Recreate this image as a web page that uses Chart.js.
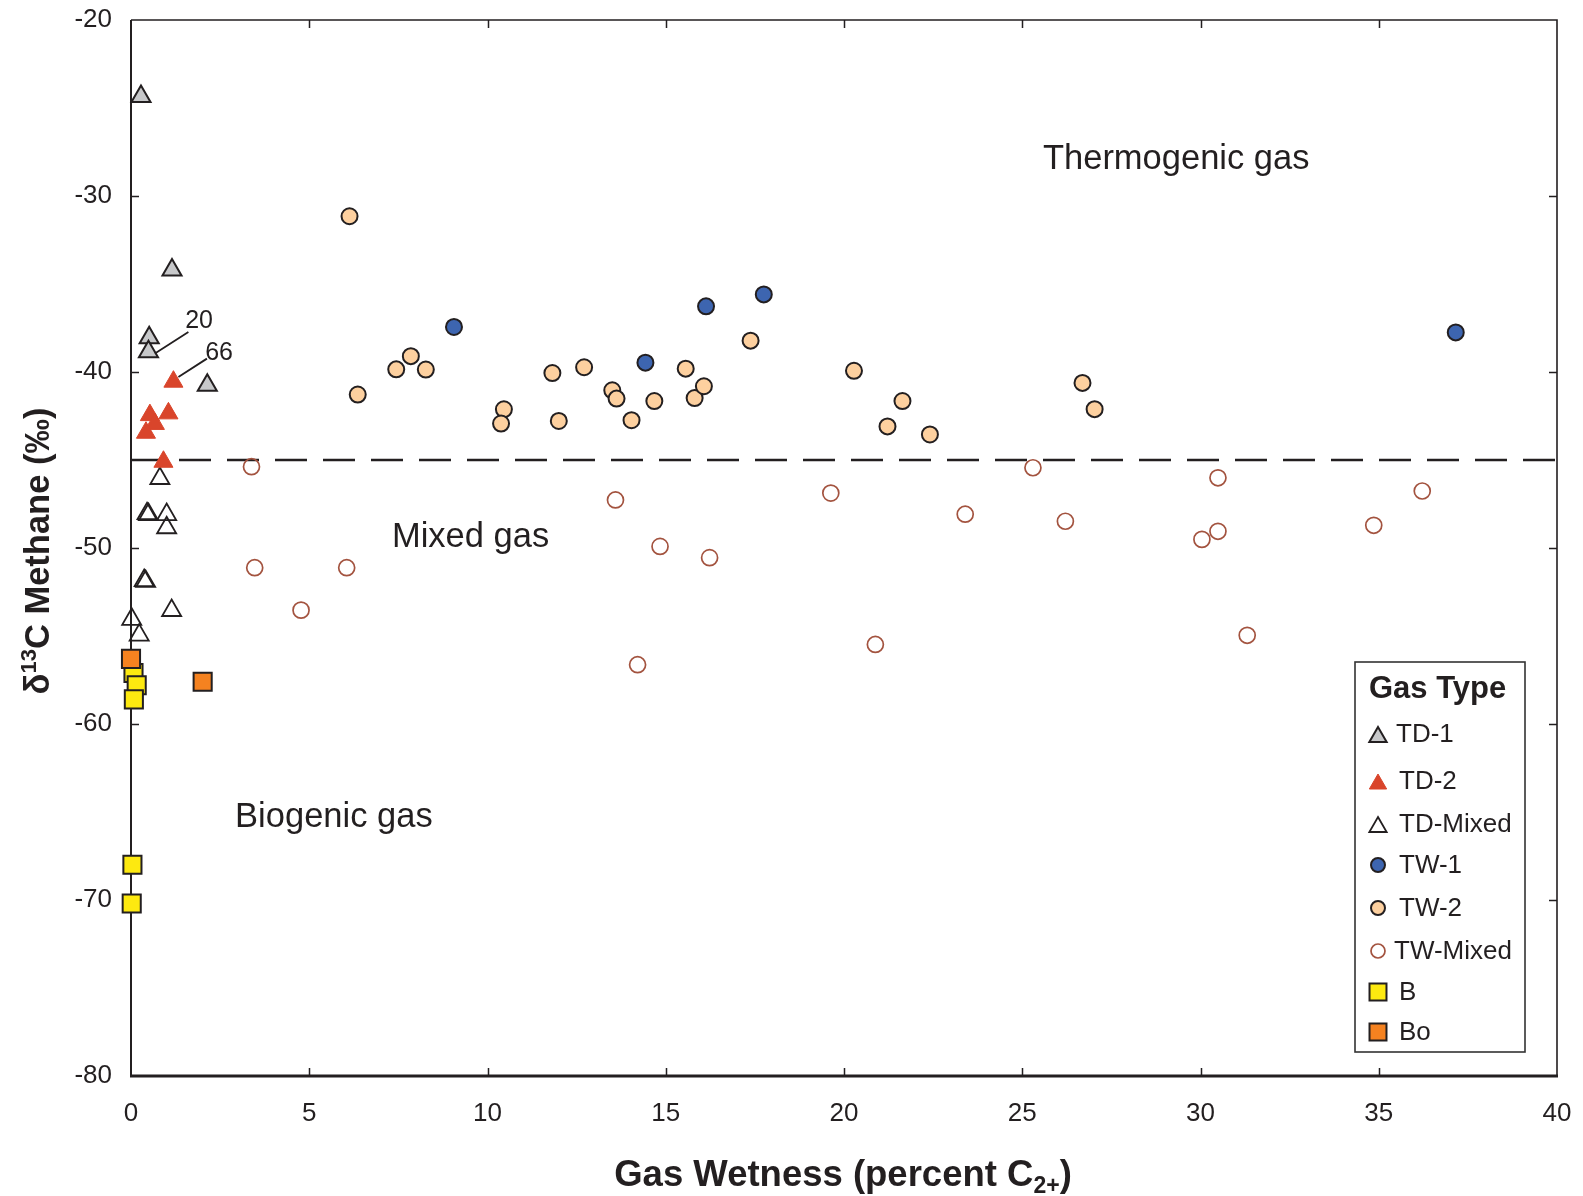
<!DOCTYPE html>
<html>
<head>
<meta charset="utf-8">
<script src="https://cdn.jsdelivr.net/npm/chart.js@4/dist/chart.umd.min.js"></script>
<style>
html,body{margin:0;padding:0;background:#fff;}
#wrap{width:1583px;height:1196px;}
</style>
</head>
<body>
<div id="wrap"><canvas id="c" width="1583" height="1196"></canvas></div>
<script>
// ---------- data ----------
const xTicks = [0, 5, 10, 15, 20, 25, 30, 35, 40];
const yTicks = [-20, -30, -40, -50, -60, -70, -80];

const tdOneX = [0.28, 1.15, 0.51, 0.49, 2.14];
const tdOneY = [-24.35, -34.2, -38.05, -38.85, -40.75];

const tdTwoX = [1.19, 0.53, 1.05, 0.67, 0.42, 0.91];
const tdTwoY = [-40.55, -42.45, -42.35, -42.95, -43.45, -45.1];

const tdMixX = [0.81, 0.45, 0.49, 1.0, 1.0, 0.37, 0.41, 1.14, 0.02, 0.23];
const tdMixY = [-46.05, -48.05, -48.1, -48.1, -48.85, -51.85, -51.9, -53.55, -54.05, -54.95];

const twOneX = [9.06, 14.43, 16.13, 17.75, 37.16];
const twOneY = [-37.44, -39.47, -36.27, -35.59, -37.75];

const twTwoX = [6.13, 6.36, 7.44, 7.85, 8.27, 10.46, 10.38, 11.82, 12.0, 12.71, 13.5, 13.62, 14.04, 14.68, 15.56, 15.81, 16.07, 17.38, 20.28, 21.22, 21.64, 22.41, 26.69, 27.03];
const twTwoY = [-31.15, -41.28, -39.85, -39.10, -39.86, -42.12, -42.93, -40.06, -42.78, -39.73, -41.04, -41.51, -42.74, -41.65, -39.81, -41.48, -40.81, -38.22, -39.93, -43.09, -41.65, -43.55, -40.62, -42.11];

const twMixX = [3.38, 3.47, 4.77, 6.05, 13.59, 14.21, 14.84, 16.23, 19.63, 20.88, 23.40, 25.30, 26.21, 30.04, 30.49, 30.49, 31.31, 34.86, 36.22];
const twMixY = [-45.38, -51.12, -53.53, -51.12, -47.27, -56.63, -49.91, -50.55, -46.88, -55.48, -48.08, -45.44, -48.48, -49.51, -49.05, -46.01, -54.96, -48.71, -46.76];

const bX = [0.07, 0.16, 0.08, 0.04, 0.02];
const bY = [-57.1, -57.8, -58.6, -68.0, -70.2];

const boX = [0.0, 2.01];
const boY = [-56.3, -57.6];

const boundaryX = [0, 40];
const boundaryY = [-45, -45];

const seriesNames = ['TD-1', 'TD-2', 'TD-Mixed', 'TW-1', 'TW-2', 'TW-Mixed', 'B', 'Bo'];
const regionLabels = ['Thermogenic gas', 'Mixed gas', 'Biogenic gas'];
const sampleLabels = ['20', '66'];

// ---------- build ----------
const zip = (xs, ys) => xs.map((x, i) => ({x: x, y: ys[i]}));
const INK = '#231f20';
const FONT = '"Liberation Sans", Arial, Helvetica, sans-serif';

const styles = {
  'TD-1':     {pointStyle: 'triangle', radius: 11, bg: '#c7c8ca', border: INK, bw: 2},
  'TD-2':     {pointStyle: 'triangle', radius: 11, bg: '#d9452b', border: '#d9452b', bw: 1},
  'TD-Mixed': {pointStyle: 'triangle', radius: 11, bg: 'rgba(0,0,0,0)', border: INK, bw: 1.8},
  'TW-1':     {pointStyle: 'circle', radius: 8, bg: '#3d65b0', border: INK, bw: 2},
  'TW-2':     {pointStyle: 'circle', radius: 8, bg: '#fdd09f', border: INK, bw: 2},
  'TW-Mixed': {pointStyle: 'circle', radius: 8, bg: 'rgba(0,0,0,0)', border: '#a3533f', bw: 1.7},
  'B':        {pointStyle: 'rect', radius: 12.8, bg: '#fde910', border: INK, bw: 2},
  'Bo':       {pointStyle: 'rect', radius: 12.8, bg: '#f58220', border: INK, bw: 2}
};
const seriesData = {
  'TD-1': zip(tdOneX, tdOneY), 'TD-2': zip(tdTwoX, tdTwoY), 'TD-Mixed': zip(tdMixX, tdMixY),
  'TW-1': zip(twOneX, twOneY), 'TW-2': zip(twTwoX, twTwoY), 'TW-Mixed': zip(twMixX, twMixY),
  'B': zip(bX, bY), 'Bo': zip(boX, boY)
};
// drawing order (first = on top)
const drawOrder = ['Bo', 'B', 'TD-2', 'TD-1', 'TD-Mixed', 'TW-1', 'TW-2', 'TW-Mixed'];

const datasets = drawOrder.map(name => ({
  type: 'scatter',
  label: name,
  data: seriesData[name],
  pointStyle: styles[name].pointStyle,
  pointRadius: styles[name].radius,
  pointBackgroundColor: styles[name].bg,
  pointBorderColor: styles[name].border,
  pointBorderWidth: styles[name].bw,
  clip: false
}));
datasets.push({
  type: 'line',
  label: 'boundary',
  data: zip(boundaryX, boundaryY),
  borderColor: INK,
  borderWidth: 2.6,
  borderDash: [32, 16],
  pointRadius: 0,
  fill: false,
  clip: false
});

const framePlugin = {
  id: 'frame',
  beforeDatasetsDraw(chart) {
    const {ctx, chartArea: a, scales} = chart;
    ctx.save();
    ctx.strokeStyle = INK;
    ctx.lineCap = 'butt';
    ctx.lineWidth = 1.5;
    ctx.beginPath();
    xTicks.forEach(v => {
      const px = Math.round(scales.x.getPixelForValue(v)) + 0.5;
      if (v !== xTicks[0] && v !== xTicks[xTicks.length - 1]) {
        ctx.moveTo(px, a.bottom); ctx.lineTo(px, a.bottom - 8);
        ctx.moveTo(px, a.top); ctx.lineTo(px, a.top + 8);
      }
    });
    yTicks.forEach(v => {
      const py = Math.round(scales.y.getPixelForValue(v)) + 0.5;
      if (v !== yTicks[0] && v !== yTicks[yTicks.length - 1]) {
        ctx.moveTo(a.left, py); ctx.lineTo(a.left + 8, py);
        ctx.moveTo(a.right, py); ctx.lineTo(a.right - 8, py);
      }
    });
    ctx.stroke();
    ctx.lineWidth = 1.6;
    ctx.beginPath();
    ctx.moveTo(a.left, a.top); ctx.lineTo(a.right, a.top); ctx.lineTo(a.right, a.bottom);
    ctx.stroke();
    ctx.lineWidth = 2;
    ctx.beginPath();
    ctx.moveTo(a.left, a.top); ctx.lineTo(a.left, a.bottom);
    ctx.stroke();
    ctx.lineWidth = 3;
    ctx.beginPath();
    ctx.moveTo(a.left - 1, a.bottom); ctx.lineTo(a.right + 1, a.bottom);
    ctx.stroke();
    ctx.restore();
  },
  afterDraw(chart) {
    const {ctx, chartArea: a, scales} = chart;
    const X = v => scales.x.getPixelForValue(v);
    const Y = v => scales.y.getPixelForValue(v);
    ctx.save();
    ctx.fillStyle = INK;
    ctx.strokeStyle = INK;

    // region labels
    ctx.font = '34.5px ' + FONT;
    ctx.textAlign = 'left';
    ctx.textBaseline = 'alphabetic';
    ctx.fillText(regionLabels[0], X(25.58), Y(-28.44));
    ctx.fillText(regionLabels[1], X(7.32), Y(-49.94));
    ctx.fillText(regionLabels[2], X(2.92), Y(-65.85));

    // sample leader lines and labels
    ctx.lineWidth = 1.8;
    ctx.beginPath();
    ctx.moveTo(X(0.67), Y(-38.95)); ctx.lineTo(X(1.61), Y(-37.73));
    ctx.moveTo(X(1.33), Y(-40.28)); ctx.lineTo(X(2.13), Y(-39.24));
    ctx.stroke();
    ctx.font = '25px ' + FONT;
    ctx.textAlign = 'center';
    ctx.textBaseline = 'middle';
    ctx.fillText(sampleLabels[0], X(1.91), Y(-37.12));
    ctx.fillText(sampleLabels[1], X(2.47), Y(-38.95));

    // x axis title with subscript
    const xt1 = 'Gas Wetness (percent C', xt2 = '2+', xt3 = ')';
    const bigX = 'bold 36.5px ' + FONT, smallX = 'bold 23px ' + FONT;
    ctx.textBaseline = 'alphabetic';
    ctx.textAlign = 'left';
    ctx.font = bigX; const w1 = ctx.measureText(xt1).width, w3 = ctx.measureText(xt3).width;
    ctx.font = smallX; const w2 = ctx.measureText(xt2).width;
    const cx = 843;
    let sx = cx - (w1 + w2 + w3) / 2;
    const by = 1186;
    ctx.font = bigX; ctx.fillText(xt1, sx, by); sx += w1;
    ctx.font = smallX; ctx.fillText(xt2, sx, by + 7); sx += w2;
    ctx.font = bigX; ctx.fillText(xt3, sx, by);

    // y axis title with superscript
    const yt1 = 'δ', yt2 = '13', yt3 = 'C Methane (‰)';
    const bigY = 'bold 34.5px ' + FONT, smallY = 'bold 22px ' + FONT;
    ctx.font = bigY; const v1 = ctx.measureText(yt1).width, v3 = ctx.measureText(yt3).width;
    ctx.font = smallY; const v2 = ctx.measureText(yt2).width;
    ctx.translate(49, 551);
    ctx.rotate(-Math.PI / 2);
    let sy = -(v1 + v2 + v3) / 2;
    ctx.font = bigY; ctx.fillText(yt1, sy, 0); sy += v1;
    ctx.font = smallY; ctx.fillText(yt2, sy, -13); sy += v2;
    ctx.font = bigY; ctx.fillText(yt3, sy, 0);
    ctx.setTransform(1, 0, 0, 1, 0, 0);

    // legend box
    const L = 1355, T = 662, R = 1525, B = 1052;
    ctx.fillStyle = '#fff';
    ctx.fillRect(L, T, R - L, B - T);
    ctx.strokeStyle = '#333';
    ctx.lineWidth = 1.6;
    ctx.strokeRect(L, T, R - L, B - T);
    ctx.fillStyle = INK;
    ctx.font = 'bold 31px ' + FONT;
    ctx.textAlign = 'left';
    ctx.textBaseline = 'middle';
    ctx.fillText('Gas Type', 1369, 689);
    const rowsY = [734, 781, 824, 865, 908, 951, 992, 1032];
    const legR = [10, 10, 10, 7, 7, 7, 12, 12];
    const textX = [1396, 1399, 1399, 1399, 1399, 1394, 1399, 1399];
    ctx.font = '26px ' + FONT;
    seriesNames.forEach((name, i) => {
      const st = styles[name];
      ctx.save();
      ctx.fillStyle = st.bg;
      ctx.strokeStyle = st.border;
      ctx.lineWidth = st.bw;
      Chart.helpers.drawPoint(ctx, {pointStyle: st.pointStyle, radius: legR[i], rotation: 0, borderWidth: st.bw}, 1378,
        st.pointStyle === 'triangle' ? rowsY[i] + 3 : rowsY[i]);
      ctx.restore();
      ctx.fillStyle = INK;
      ctx.fillText(name, textX[i], rowsY[i] + 1);
    });
    ctx.restore();
  }
};

new Chart(document.getElementById('c'), {
  data: {datasets: datasets},
  options: {
    responsive: false,
    animation: false,
    devicePixelRatio: 1,
    events: [],
    layout: {padding: {top: 20, right: 26, left: 0, bottom: 0}},
    plugins: {legend: {display: false}, tooltip: {enabled: false}},
    scales: {
      x: {
        type: 'linear', position: 'bottom', min: 0, max: 40,
        afterBuildTicks: s => { s.ticks = xTicks.map(v => ({value: v})); },
        afterFit: s => { s.height = 120; s.paddingLeft = 0; s.paddingRight = 0; s.paddingTop = 0; s.paddingBottom = 0; },
        grid: {display: false, drawTicks: false},
        border: {display: false},
        ticks: {color: INK, font: {size: 26, family: FONT}, padding: 22, maxRotation: 0}
      },
      y: {
        type: 'linear', position: 'left', min: -80, max: -20,
        afterBuildTicks: s => { s.ticks = yTicks.map(v => ({value: v})); },
        afterFit: s => { s.width = 131; s.paddingLeft = 0; s.paddingRight = 0; s.paddingTop = 0; s.paddingBottom = 0; },
        grid: {display: false, drawTicks: false},
        border: {display: false},
        ticks: {color: INK, font: {size: 26, family: FONT}, padding: 19}
      }
    }
  },
  plugins: [framePlugin]
});
</script>
</body>
</html>
